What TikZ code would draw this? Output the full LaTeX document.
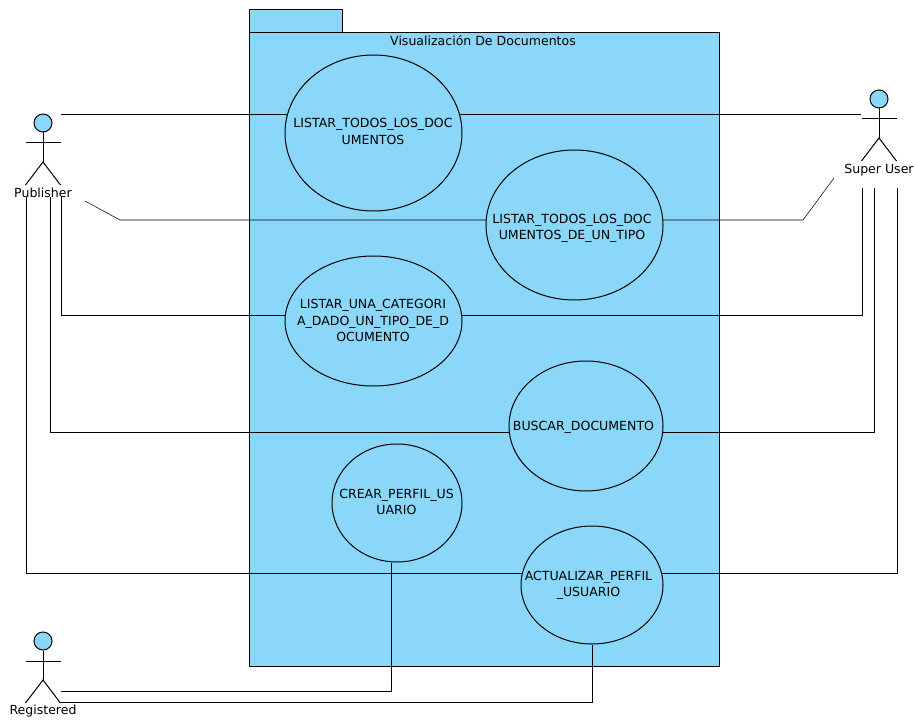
\documentclass[tikz,border=0pt]{standalone}
\usepackage{fontspec}
\setmainfont{DejaVu Sans}
\usetikzlibrary{shapes.geometric, backgrounds}
\definecolor{pkgblue}{HTML}{8AD7F9}
\def\px{0.75pt}
\begin{document}
\begin{tikzpicture}[x=0.75pt,y=-0.75pt,line width=0.75pt,
                    uc node/.style={ellipse,draw,fill=pkgblue,inner sep=0pt},
                    uc text/.style={font=\fontsize{9.4}{12.4}\selectfont,align=center,inner sep=0pt},
                    actor text/.style={font=\fontsize{9.4}{11}\selectfont,inner sep=0pt},
                    head node/.style={circle,draw,fill=pkgblue,inner sep=0pt,minimum size=18*\px}]
\useasboundingbox (0,0) rectangle (914,720);

%Use cases
 \foreach \name/\x/\y/\w/\h/\tx/\ty/\txt in {
    ucListAll/373.5/133/177/156/373/131.5/{LISTAR\_TODOS\_LOS\_DOC\\UMENTOS},
    ucListType/574.5/225/177/150/572/228.5/{LISTAR\_TODOS\_LOS\_DOC\\UMENTOS\_DE\_UN\_TIPO},
    ucListCat/373.5/321/177/130/373/320.5/{LISTAR\_UNA\_CATEGORI\\A\_DADO\_UN\_TIPO\_DE\_D\\OCUMENTO},
    ucSearch/586/426/154/130/583.5/427/{BUSCAR\_DOCUMENTO},
    ucCreate/397/503/130/118/396.5/502/{CREAR\_PERFIL\_US\\UARIO},
    ucUpdate/592/585/142/118/588.5/585.5/{ACTUALIZAR\_PERFIL\\\_USUARIO}}
   {\node [uc node,minimum width=\w*\px,minimum height=\h*\px] (\name) at (\x,\y) {};
    \node [uc text] (\name Text) at (\tx,\ty) {\txt};}

%Actors
 \foreach \name/\x/\y/\off/\txt in {
    pub/43/123/69.5/Publisher,
    sup/879/99/71/Super User,
    reg/43/641/70.5/Registered}
   {\node [head node] (\name Head) at (\x,\y) {};
    \node [actor text] (\name Label) at (\x,\y+\off) {\txt};
    \coordinate (\name Neck) at (\x,\y+39);
    \draw (\name Head) -- (\name Neck);
    \draw (\x-17.5,\y+20) -- (\x+17.5,\y+20);
    \draw (\x-17.5,\y+62) -- (\name Neck) -- (\x+17.5,\y+62);}

%Free ends at the actors
 \coordinate (pubA) at (61,114);
 \coordinate (pubB) at (85,201);
 \coordinate (pubBend) at (120,220);
 \coordinate (pubC) at (61,197);
 \coordinate (pubD) at (50,197);
 \coordinate (pubE) at (26,197);
 \coordinate (supA) at (861,114);
 \coordinate (supB) at (834,178);
 \coordinate (supBend) at (803,220);
 \coordinate (supC) at (862,188);
 \coordinate (supD) at (874,188);
 \coordinate (supE) at (897,188);
 \coordinate (regA) at (61,691);
 \coordinate (regB) at (61,702);

\begin{scope}[on background layer]
 \node [draw,fill=pkgblue,inner sep=0pt,minimum width=93*\px,minimum height=23*\px] (pkgTab) at (296,20.5) {};
 \node [draw,fill=pkgblue,inner sep=0pt,minimum width=470*\px,minimum height=634*\px] (pkg) at (484.5,349) {};
 \node [actor text] (pkgTitle) at (483,41) {Visualización De Documentos};

%Publisher lines
 \draw (pubA) -- (pubA -| ucListAll);
 \draw (pubB) -- (pubBend) -- (pubBend -| ucListType);
 \draw (pubC) |- (ucListCat.center |- 0,315);
 \draw (pubD) |- (ucSearch.center |- 0,432);
 \draw (pubE) |- (ucUpdate.center |- 0,573);

%Super user lines
 \draw (ucListAll.center |- supA) -- (supA);
 \draw (supBend -| ucListType) -- (supBend) -- (supB);
 \draw (ucListCat.center |- 0,315) -| (supC);
 \draw (ucSearch.center |- 0,432) -| (supD);
 \draw (ucUpdate.center |- 0,573) -| (supE);

%Registered lines
 \draw (regA) -| (ucCreate.south -| 391,0);
 \draw (regB) -| (ucUpdate.south);
\end{scope}
\end{tikzpicture}
\end{document}
